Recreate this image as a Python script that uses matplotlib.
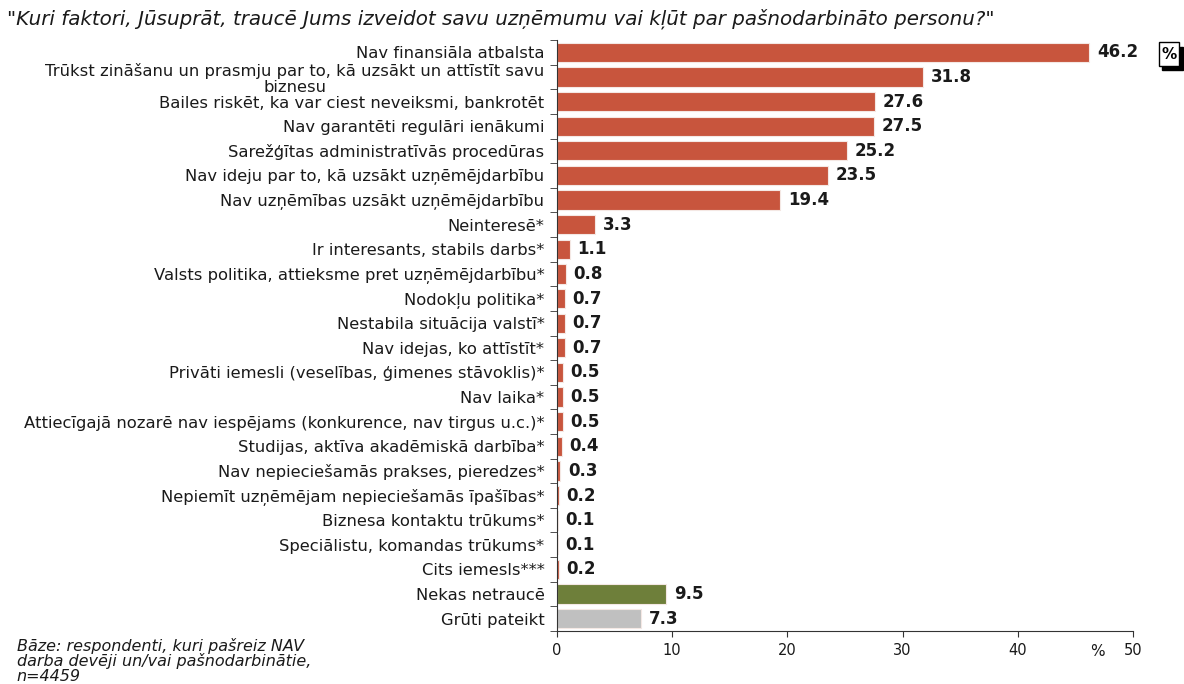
import numpy as np
import matplotlib.pyplot as plt
from matplotlib.patches import Rectangle

plt.rcParams['font.family'] = ['DejaVu Sans']

# Survey answers, top to bottom
labels = [
    'Nav finansiāla atbalsta',
    'Trūkst zināšanu un prasmju par to, kā uzsākt un attīstīt savu\nbiznesu',
    'Bailes riskēt, ka var ciest neveiksmi, bankrotēt',
    'Nav garantēti regulāri ienākumi',
    'Sarežģītas administratīvās procedūras',
    'Nav ideju par to, kā uzsākt uzņēmējdarbību',
    'Nav uzņēmības uzsākt uzņēmējdarbību',
    'Neinteresē*',
    'Ir interesants, stabils darbs*',
    'Valsts politika, attieksme pret uzņēmējdarbību*',
    'Nodokļu politika*',
    'Nestabila situācija valstī*',
    'Nav idejas, ko attīstīt*',
    'Privāti iemesli (veselības, ģimenes stāvoklis)*',
    'Nav laika*',
    'Attiecīgajā nozarē nav iespējams (konkurence, nav tirgus u.c.)*',
    'Studijas, aktīva akadēmiskā darbība*',
    'Nav nepieciešamās prakses, pieredzes*',
    'Nepiemīt uzņēmējam nepieciešamās īpašības*',
    'Biznesa kontaktu trūkums*',
    'Speciālistu, komandas trūkums*',
    'Cits iemesls***',
    'Nekas netraucē',
    'Grūti pateikt',
]
values = [46.2, 31.8, 27.6, 27.5, 25.2, 23.5, 19.4, 3.3, 1.1, 0.8, 0.7, 0.7,
          0.7, 0.5, 0.5, 0.5, 0.4, 0.3, 0.2, 0.1, 0.1, 0.2, 9.5, 7.3]
groups = ['reason'] * 22 + ['none', 'dontknow']
group_colors = {'reason': '#C8553D', 'none': '#6E7F3A', 'dontknow': '#C0C0C0'}

fig = plt.figure(figsize=(11.84, 6.84), dpi=100)
ax = fig.add_axes([0.4704, 0.0775, 0.4866, 0.864])

n = len(values)
y = np.arange(n)
colors = [group_colors[g] for g in groups]
ax.barh(y, values, height=0.78, color=colors, edgecolor='#f4e8e4', linewidth=0.8)

for yi, v in zip(y, values):
    ax.text(v + 0.65, yi, f'{v:.1f}', va='center', ha='left', fontsize=12,
            fontweight='bold', color='#1a1a1a')

ax.set_ylim(n - 0.5, -0.5)
ax.set_xlim(0, 50)
ax.set_xticks([0, 10, 20, 30, 40, 50])
ax.tick_params(axis='x', labelsize=10.5, direction='out', length=4, colors='#333333',
               labelcolor='#1a1a1a', pad=5)

# category labels at the bars, tick marks between categories
ax.set_yticks(y)
ax.set_yticklabels(labels, fontsize=11.8, color='#1a1a1a', multialignment='center',
                   linespacing=1.1)
ax.tick_params(axis='y', which='major', length=0, pad=9)
ax.set_yticks(np.arange(-0.5, n, 1), minor=True)
ax.tick_params(axis='y', which='minor', length=5, direction='out', colors='#333333')

for side in ['top', 'right']:
    ax.spines[side].set_visible(False)
for side in ['left', 'bottom']:
    ax.spines[side].set_color('#333333')

fig.text(0.006, 0.972, '"Kuri faktori, Jūsuprāt, traucē Jums izveidot savu uzņēmumu vai kļūt par pašnodarbināto personu?"',
         fontsize=14.3, style='italic', color='#1a1a1a', va='center')
fig.text(0.014, 0.034, 'Bāze: respondenti, kuri pašreiz NAV\ndarba devēji un/vai pašnodarbinātie,\nn=4459',
         fontsize=11.5, style='italic', color='#1a1a1a', va='center', linespacing=0.95)
fig.text(0.927, 0.047, '%', fontsize=11, color='#1a1a1a', ha='center', va='center')

# "%" badge top right
fig.patches.append(Rectangle((0.9815, 0.898), 0.0175, 0.034, transform=fig.transFigure,
                             facecolor='black', edgecolor='black'))
fig.patches.append(Rectangle((0.9785, 0.904), 0.0175, 0.034, transform=fig.transFigure,
                             facecolor='white', edgecolor='black', linewidth=1))
fig.text(0.9873, 0.921, '%', fontsize=11, fontweight='bold', ha='center', va='center')

fig.savefig('out.png', dpi=100)
